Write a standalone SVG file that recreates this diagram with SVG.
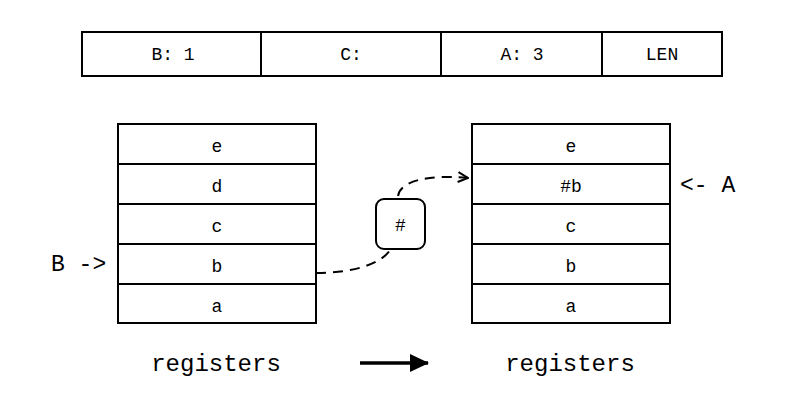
<svg xmlns="http://www.w3.org/2000/svg" width="800" height="400" viewBox="0 0 800 400">
<defs>
<style>
.box{fill:#fff;stroke:#000;stroke-width:2}
.t{font-family:"Liberation Mono","Courier New",monospace;font-size:18px;fill:#000;text-anchor:middle;dominant-baseline:central}
.big{font-family:"Liberation Mono","Courier New",monospace;font-size:23px;fill:#000;dominant-baseline:central}
</style>
<marker id="open" viewBox="0 0 12 12" refX="11" refY="6" markerWidth="12" markerHeight="12" markerUnits="userSpaceOnUse" orient="auto">
<path d="M1,1 L11,6 L1,11" fill="none" stroke="#000" stroke-width="2"/>
</marker>
<marker id="solid" viewBox="0 0 20 20" refX="18" refY="10" markerWidth="20" markerHeight="20" markerUnits="userSpaceOnUse" orient="auto">
<path d="M0,1 L19,10 L0,19 Z" fill="#000"/>
</marker>
</defs>
<rect width="800" height="400" fill="#fff"/>
<g id="topbar">
<rect class="box" x="82" y="32" width="640" height="44"/>
<line x1="261" y1="32" x2="261" y2="76" stroke="#000" stroke-width="2"/>
<line x1="441" y1="32" x2="441" y2="76" stroke="#000" stroke-width="2"/>
<line x1="602" y1="32" x2="602" y2="76" stroke="#000" stroke-width="2"/>
<text class="t" x="173" y="55">B: 1</text>
<text class="t" x="351" y="55">C:</text>
<text class="t" x="522" y="55">A: 3</text>
<text class="t" x="662" y="55">LEN</text>
</g>
<g id="connectors">
<path d="M316,273 C350,273 385,265 393,245 M398,196 C400,182 425,174 468,178" fill="none" stroke="#000" stroke-width="2" stroke-dasharray="10,7" marker-end="url(#open)"/>
<line x1="360" y1="363" x2="428" y2="363" stroke="#000" stroke-width="3.5" marker-end="url(#solid)"/>
</g>
<g id="left-registers">
<rect class="box" x="118" y="124" width="198" height="40"/>
<rect class="box" x="118" y="164" width="198" height="40"/>
<rect class="box" x="118" y="204" width="198" height="40"/>
<rect class="box" x="118" y="244" width="198" height="40"/>
<rect class="box" x="118" y="284" width="198" height="39"/>
<text class="t" x="217" y="147">e</text>
<text class="t" x="217" y="187">d</text>
<text class="t" x="217" y="227">c</text>
<text class="t" x="217" y="267">b</text>
<text class="t" x="217" y="307">a</text>
</g>
<g id="right-registers">
<rect class="box" x="472" y="124" width="198" height="40"/>
<rect class="box" x="472" y="164" width="198" height="40"/>
<rect class="box" x="472" y="204" width="198" height="40"/>
<rect class="box" x="472" y="244" width="198" height="40"/>
<rect class="box" x="472" y="284" width="198" height="39"/>
<text class="t" x="571" y="147">e</text>
<text class="t" x="571" y="187">#b</text>
<text class="t" x="571" y="227">c</text>
<text class="t" x="571" y="267">b</text>
<text class="t" x="571" y="307">a</text>
</g>
<g id="hash">
<rect class="box" x="376" y="199" width="49" height="50" rx="8"/>
<text class="t" x="400.5" y="226">#</text>
</g>
<g id="label-B"><text class="big" x="51" y="265">B -&gt;</text></g>
<g id="label-A"><text class="big" x="680" y="186">&lt;- A</text></g>
<g id="label-left"><text class="big" x="216" y="364" text-anchor="middle" style="font-size:24px">registers</text></g>
<g id="label-right"><text class="big" x="570" y="364" text-anchor="middle" style="font-size:24px">registers</text></g>
</svg>
